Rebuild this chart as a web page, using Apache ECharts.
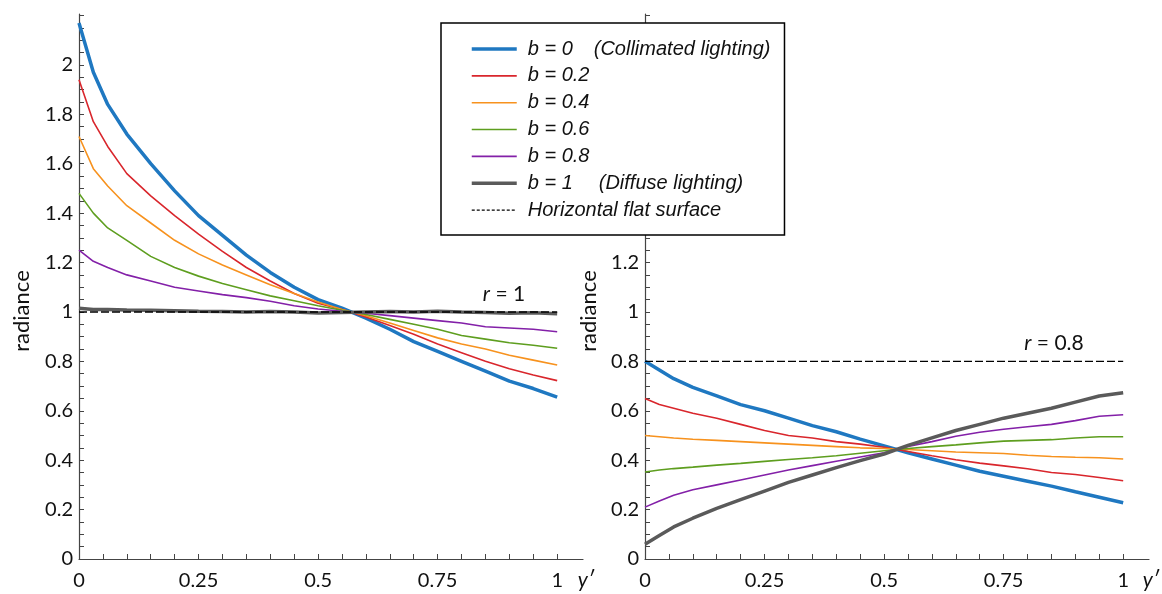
<!DOCTYPE html>
<html><head><meta charset="utf-8">
<script src="https://cdn.jsdelivr.net/npm/echarts@6/dist/echarts.min.js"></script>
<style>html,body{margin:0;padding:0;background:#fff}#c{width:1162px;height:594px}</style>
</head><body><div id="c"></div>
<script>
// ---- data ----
const xValues = [0, 0.03, 0.06, 0.1, 0.15, 0.2, 0.25, 0.3, 0.35, 0.4, 0.45, 0.5, 0.55, 0.6, 0.65, 0.7, 0.75, 0.8, 0.85, 0.9, 0.95, 1];

// left panel, r = 1
const leftB00 = [2.17, 1.97, 1.84, 1.72, 1.60, 1.49, 1.39, 1.31, 1.23, 1.16, 1.10, 1.05, 1.015, 0.975, 0.93, 0.88, 0.84, 0.80, 0.76, 0.72, 0.69, 0.655];
const leftB02 = [1.94, 1.77, 1.67, 1.56, 1.47, 1.39, 1.315, 1.245, 1.18, 1.125, 1.075, 1.035, 1.01, 0.98, 0.945, 0.91, 0.87, 0.835, 0.80, 0.77, 0.745, 0.722];
const leftB04 = [1.71, 1.58, 1.51, 1.43, 1.36, 1.29, 1.235, 1.19, 1.15, 1.11, 1.075, 1.04, 1.01, 0.985, 0.955, 0.925, 0.895, 0.87, 0.85, 0.825, 0.805, 0.785];
const leftB06 = [1.48, 1.40, 1.34, 1.29, 1.225, 1.18, 1.145, 1.115, 1.09, 1.065, 1.045, 1.025, 1.007, 0.99, 0.97, 0.95, 0.93, 0.905, 0.89, 0.875, 0.865, 0.853];
const leftB08 = [1.25, 1.205, 1.18, 1.15, 1.125, 1.10, 1.085, 1.07, 1.058, 1.043, 1.025, 1.012, 1.003, 0.995, 0.985, 0.975, 0.965, 0.955, 0.94, 0.935, 0.93, 0.92];
const leftB10 = [1.015, 1.01, 1.01, 1.008, 1.007, 1.005, 1.003, 1.002, 1.0, 1.002, 1.0, 0.996, 0.998, 1.0, 1.002, 1.0, 1.003, 1.0, 0.998, 0.995, 0.997, 0.993];
const leftFlat = 1;

// right panel, r = 0.8
const rightB00 = [0.80, 0.765, 0.73, 0.695, 0.66, 0.625, 0.60, 0.57, 0.54, 0.515, 0.485, 0.458, 0.43, 0.405, 0.38, 0.355, 0.335, 0.315, 0.295, 0.272, 0.25, 0.228];
const rightB02 = [0.65, 0.625, 0.61, 0.59, 0.57, 0.545, 0.52, 0.50, 0.49, 0.475, 0.465, 0.452, 0.435, 0.418, 0.402, 0.388, 0.377, 0.365, 0.35, 0.342, 0.33, 0.317];
const rightB04 = [0.50, 0.495, 0.49, 0.485, 0.48, 0.475, 0.47, 0.465, 0.46, 0.455, 0.45, 0.447, 0.443, 0.438, 0.433, 0.43, 0.427, 0.42, 0.415, 0.412, 0.41, 0.405];
const rightB06 = [0.352, 0.36, 0.366, 0.372, 0.38, 0.387, 0.395, 0.403, 0.41, 0.418, 0.428, 0.438, 0.447, 0.455, 0.462, 0.47, 0.477, 0.48, 0.483, 0.49, 0.495, 0.495];
const rightB08 = [0.21, 0.235, 0.258, 0.28, 0.30, 0.32, 0.34, 0.36, 0.378, 0.396, 0.413, 0.43, 0.455, 0.475, 0.497, 0.513, 0.525, 0.535, 0.545, 0.56, 0.578, 0.584];
const rightB10 = [0.06, 0.095, 0.13, 0.165, 0.205, 0.24, 0.275, 0.31, 0.34, 0.37, 0.398, 0.425, 0.46, 0.49, 0.52, 0.545, 0.57, 0.59, 0.61, 0.635, 0.66, 0.673];
const rightFlat = 0.8;

const seriesNames = ['b = 0', 'b = 0.2', 'b = 0.4', 'b = 0.6', 'b = 0.8', 'b = 1'];
const flatName = 'Horizontal flat surface';
const xTickLabels = [0, 0.25, 0.5, 0.75, 1];
const yTickLabels = [0, 0.2, 0.4, 0.6, 0.8, 1, 1.2, 1.4, 1.6, 1.8, 2];
const panelLabels = ['r = 1', 'r = 0.8'];

// ---- styling ----
const colors = ['#1f78c1', '#d9262c', '#f7921e', '#5e9e1f', '#8320a8', '#5a5a5a'];
const widths = [3.5, 1.6, 1.6, 1.6, 1.6, 3.5];
const axisColor = '#444';
const txt = '#111';
const tickFont = 'Lato, "Open Sans", sans-serif';

const minorX = []; for (let i = 0; i <= 20; i++) minorX.push(+(i * 0.05).toFixed(2));
const minorY = []; for (let i = 0; i <= 44; i++) minorY.push(+(i * 0.05).toFixed(2));

const leftSets = [leftB00, leftB02, leftB04, leftB06, leftB08, leftB10];
const rightSets = [rightB00, rightB02, rightB04, rightB06, rightB08, rightB10];

function pairs(arr) { return xValues.map((x, i) => [x, arr[i]]); }

const series = [];
[[leftSets, leftFlat], [rightSets, rightFlat]].forEach(([sets, flat], gi) => {
  sets.forEach((arr, k) => {
    series.push({
      name: seriesNames[k], type: 'line', xAxisIndex: gi, yAxisIndex: gi,
      data: pairs(arr), symbol: 'none', smooth: false, silent: true,
      lineStyle: { color: colors[k], width: widths[k] }, itemStyle: { color: colors[k] },
      z: 2 + k
    });
  });
  series.push({
    name: flatName, type: 'line', xAxisIndex: gi, yAxisIndex: gi,
    data: [[0, flat], [1, flat]], symbol: 'none', silent: true,
    lineStyle: { color: '#000', width: 1.4, type: [8, 3] }, itemStyle: { color: '#000' },
    z: 10
  });
});

function xAxis(gi) {
  return {
    type: 'value', gridIndex: gi, min: 0, max: 1.054,
    axisLine: { show: true, lineStyle: { color: axisColor, width: 1.2 } },
    axisTick: { show: true, inside: true, length: 5, customValues: minorX, lineStyle: { color: axisColor, width: 1 } },
    axisLabel: { customValues: xTickLabels, formatter: v => String(+v.toFixed(2)), margin: 12,
      fontFamily: tickFont, fontSize: 20, color: txt },
    splitLine: { show: false }
  };
}
function yAxis(gi) {
  return {
    type: 'value', gridIndex: gi, min: 0, max: 2.206,
    axisLine: { show: true, lineStyle: { color: axisColor, width: 1.2 } },
    axisTick: { show: true, inside: true, length: 5, customValues: minorY, lineStyle: { color: axisColor, width: 1 } },
    axisLabel: { customValues: yTickLabels, formatter: v => String(+v.toFixed(2)), margin: 6,
      fontFamily: tickFont, fontSize: 20, color: txt },
    splitLine: { show: false }
  };
}

const legendData = seriesNames.map((n, k) => ({ name: n, lineStyle: { width: widths[k] } }))
  .concat([{ name: flatName, lineStyle: { width: 1.4, type: [3, 2] } }]);

const legendFont = '"Liberation Sans", Arial, sans-serif';
const option = {
  animation: false,
  backgroundColor: '#fff',
  grid: [
    { left: 79, top: 14, width: 504, height: 545 },
    { left: 645, top: 14, width: 504, height: 545 }
  ],
  xAxis: [xAxis(0), xAxis(1)],
  yAxis: [yAxis(0), yAxis(1)],
  legend: {
    orient: 'vertical', left: 441, top: 23,
    padding: [16, 14, 15, 29],
    itemWidth: 45, itemHeight: 14, itemGap: 6.85,
    backgroundColor: '#fff', borderColor: '#000', borderWidth: 1.5, borderRadius: 0,
    selectedMode: false, z: 20,
    itemStyle: { opacity: 0, borderWidth: 0 },
    data: legendData,
    formatter: function (name) {
      if (name === 'b = 0') return '{a|b = 0}{c|(Collimated lighting)}';
      if (name === 'b = 1') return '{d|b = 1}{c|(Diffuse lighting)}';
      return '{h|' + name + '}';
    },
    textStyle: {
      fontFamily: legendFont, fontStyle: 'italic', fontSize: 20, color: txt, lineHeight: 20,
      rich: {
        a: { fontFamily: legendFont, fontStyle: 'italic', fontSize: 20, color: txt, width: 66, padding: [0, 0, 0, 6], lineHeight: 20 },
        d: { fontFamily: legendFont, fontStyle: 'italic', fontSize: 20, color: txt, width: 71, padding: [0, 0, 0, 6], lineHeight: 20 },
        c: { fontFamily: legendFont, fontStyle: 'italic', fontSize: 20, color: txt, lineHeight: 20 },
        h: { fontFamily: legendFont, fontStyle: 'italic', fontSize: 20, color: txt, padding: [0, 0, 0, 6], lineHeight: 20 }
      }
    }
  },
  graphic: [
    { type: 'text', x: 21.5, y: 311, rotation: Math.PI / 2, style: { text: 'radiance', font: '22px ' + tickFont, fill: txt, textAlign: 'center', textVerticalAlign: 'middle' } },
    { type: 'text', x: 589, y: 311, rotation: Math.PI / 2, style: { text: 'radiance', font: '22px ' + tickFont, fill: txt, textAlign: 'center', textVerticalAlign: 'middle' } },
    { type: 'text', x: 586, y: 580, style: { text: 'y\u2032', font: 'italic 21px ' + tickFont, fill: txt, textAlign: 'center', textVerticalAlign: 'middle' } },
    { type: 'text', x: 1151, y: 580, style: { text: 'y\u2032', font: 'italic 21px ' + tickFont, fill: txt, textAlign: 'center', textVerticalAlign: 'middle' } },
    { type: 'text', x: 504, y: 294, style: { text: '{i|r}{n| = 1}', textAlign: 'center', textVerticalAlign: 'middle',
        rich: { i: { font: 'italic 21px ' + tickFont, fill: txt }, n: { font: '21px ' + tickFont, fill: txt } } } },
    { type: 'text', x: 1054, y: 343, style: { text: '{i|r}{n| = 0.8}', textAlign: 'center', textVerticalAlign: 'middle',
        rich: { i: { font: 'italic 21px ' + tickFont, fill: txt }, n: { font: '21px ' + tickFont, fill: txt } } } }
  ],
  series: series
};

const chart = echarts.init(document.getElementById('c'), null, { renderer: 'canvas' });
chart.setOption(option);
</script>
</body></html>
